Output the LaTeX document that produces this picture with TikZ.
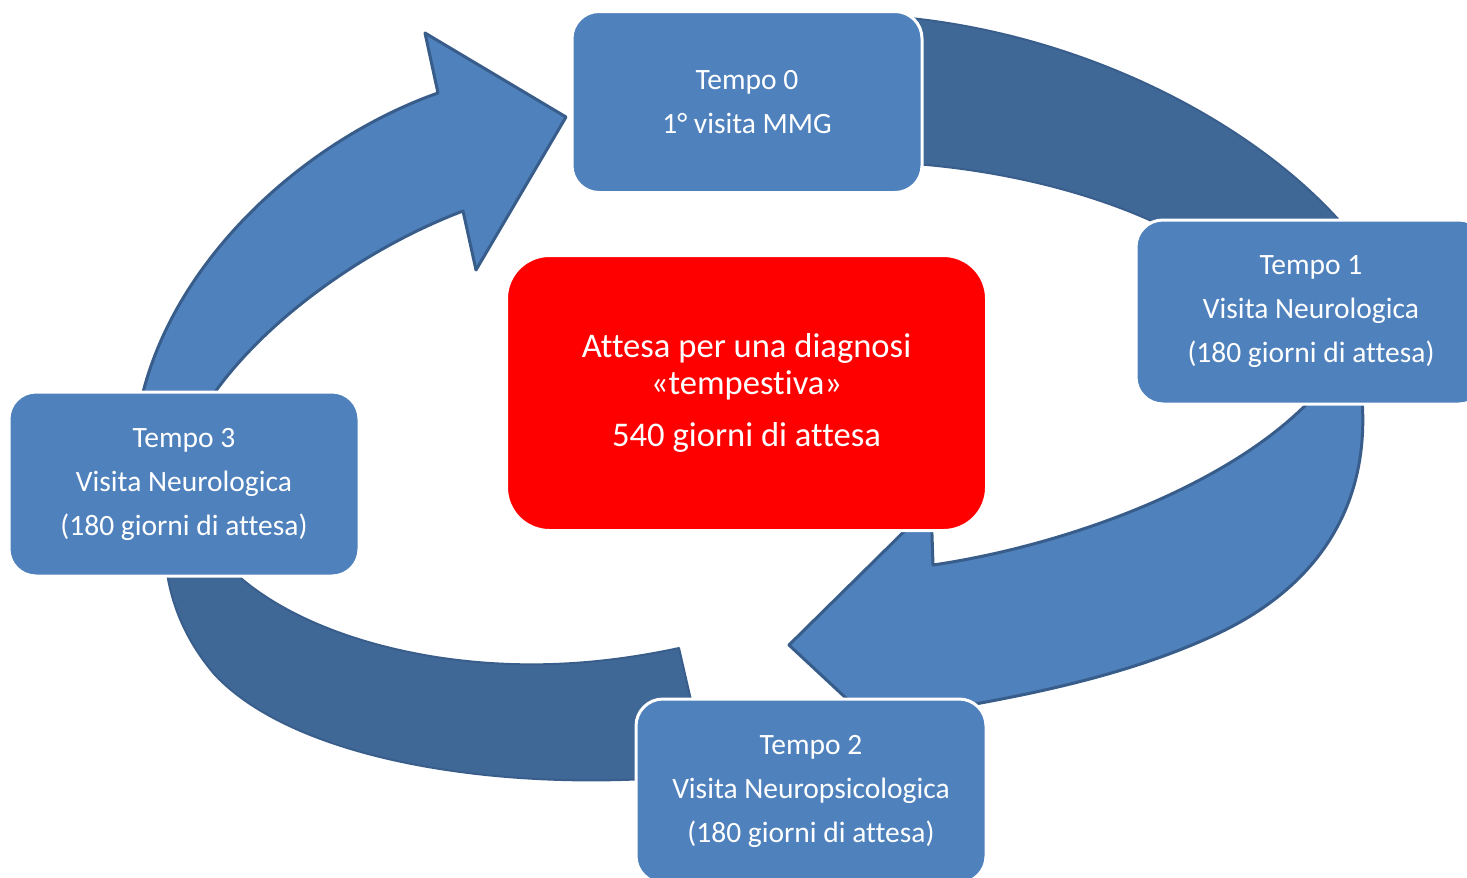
\documentclass[tikz,border=0pt]{standalone}
\usepackage{fontspec}
\setmainfont{Carlito}[Ligatures={NoCommon,NoRequired,NoContextual}]
\definecolor{boxblue}{HTML}{4F81BD}
\definecolor{bandblue}{HTML}{406897}
\definecolor{edgeblue}{HTML}{385D8A}
\definecolor{bandedge}{HTML}{395E8C}
\begin{document}
\begin{tikzpicture}[x=1pt,y=-1pt,
  stage/.style={draw=white, line width=3pt, fill=boxblue, rounded corners=27pt,
    minimum width=350pt, minimum height=184pt, align=center, text=white,
    font=\fontsize{29.5}{44}\selectfont, inner sep=0pt},
  hub/.style={draw=white, line width=3pt, fill=red, rounded corners=43pt,
    minimum width=480pt, minimum height=275pt, align=center, text=white,
    font=\fontsize{34.6}{37}\selectfont, inner sep=0pt},
  band/.style={fill=bandblue, draw=bandedge, line width=2pt, line join=round},
  flow/.style={fill=boxblue, draw=edgeblue, line width=3pt, line join=round}]
\clip (0,0) rectangle (1467,878);
\fill[white] (0,0) rectangle (1467,878);

% top-right dark band (Tempo 0 -> Tempo 1)
\path[band] (900,17) .. controls (1100,35) and (1290,140) .. (1372,262)
  -- (1232,268) .. controls (1150,205) and (1020,170) .. (900,163) -- cycle;

% right arrow (Tempo 1 -> Tempo 2)
\path[flow] (1360,380) .. controls (1375,490) and (1330,580) .. (1219,633)
  .. controls (1130,675) and (1030,695) .. (935,711)
  -- (935,781) -- (789,645) -- (931,505) -- (933,565)
  .. controls (1070,545) and (1250,480) .. (1328,380) -- cycle;

% bottom-left dark band (Tempo 2 -> Tempo 3)
\path[band] (708,774) .. controls (520,795) and (300,765) .. (215,675)
  .. controls (185,640) and (168,600) .. (165,555)
  -- (218,555) .. controls (255,600) and (330,640) .. (436,657)
  .. controls (520,670) and (600,665) .. (679,648) -- cycle;

% top-left arrow (Tempo 3 -> Tempo 0)
\path[flow] (139,410) .. controls (168,262) and (305,140) .. (438,93)
  -- (425,33) -- (566,117) -- (476,270) -- (463,211)
  .. controls (360,250) and (250,330) .. (200,415) -- cycle;

% nodes
\node[stage, minimum height=181pt] (t0) at (747,102) {Tempo 0\\1° visita MMG};
\node[stage] (t1) at (1311,312) {Tempo 1\\Visita Neurologica\\(180 giorni di attesa)};
\node[stage] (t2) at (811,791) {Tempo 2\\Visita Neuropsicologica\\(180 giorni di attesa)};
\node[stage] (t3) at (184,484) {Tempo 3\\Visita Neurologica\\(180 giorni di attesa)};
\node[hub] (c) at (746.5,393) {Attesa per una diagnosi\\«tempestiva»\\[15pt]540 giorni di attesa};
\end{tikzpicture}
\end{document}
